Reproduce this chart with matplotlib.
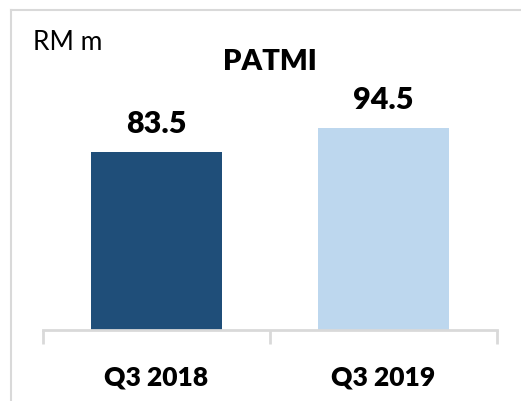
import matplotlib.pyplot as plt
from matplotlib.lines import Line2D

categories = ['Q3 2018', 'Q3 2019']
values = [83.5, 94.5]
bar_colors = ['#1F4E79', '#BDD7EE']

plt.rcParams['font.family'] = ['Lato', 'DejaVu Sans']

W, H = 521, 402
fig = plt.figure(figsize=(W / 100, H / 100), dpi=100)

# chart frame (only top and left edges visible)
grey = '#D9D9D9'
fig.add_artist(Line2D([11 / W, 11 / W], [0, 1 - 11 / H], color=grey, lw=1.5))
fig.add_artist(Line2D([11 / W, 1], [1 - 11 / H, 1 - 11 / H], color=grey, lw=1.5))

# axes: x from 43 to 497 px, baseline at y=331 px, top at y=30 px
ax = fig.add_axes([43 / W, (H - 331) / H, (497 - 43) / W, (331 - 30) / H])
x = range(len(categories))
ax.bar(x, values, width=0.573, color=bar_colors)
ax.set_xlim(-0.5, 1.5)
ax.set_ylim(0, 301 / 2.135)

for xi, v in zip(x, values):
    ax.text(xi, v + 9.4, f'{v:.1f}', ha='center', va='baseline',
            fontsize=22, fontweight='heavy')

for s in ['top', 'right', 'left']:
    ax.spines[s].set_visible(False)
ax.spines['bottom'].set_color(grey)
ax.spines['bottom'].set_linewidth(2)
ax.set_yticks([])
ax.set_xticks([-0.5, 0.5, 1.5], minor=False)
ax.set_xticklabels([])
ax.tick_params(axis='x', which='major', length=10, width=2, color=grey)
ax.set_xticks(list(x), minor=True)
ax.set_xticklabels(categories, minor=True, fontsize=19, fontweight='heavy')
ax.tick_params(axis='x', which='minor', length=0, pad=25)

fig.text(270 / W, 1 - 62 / H, 'PATMI', ha='center', va='center',
         fontsize=21, fontweight='heavy')
fig.text(33 / W, 1 - 42 / H, 'RM m', ha='left', va='center', fontsize=19)

fig.savefig('out.png', dpi=100)
